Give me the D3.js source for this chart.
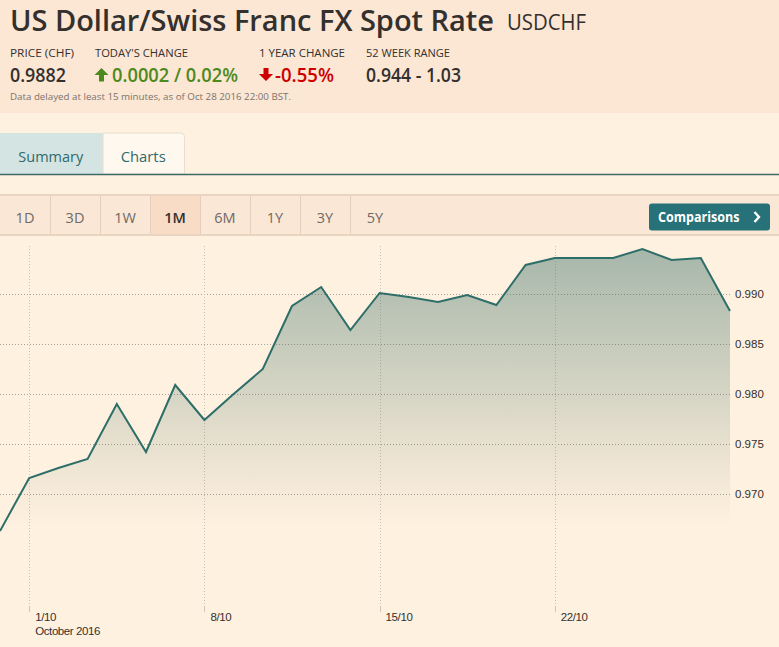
<!DOCTYPE html>
<html>
<head>
<meta charset="utf-8">
<script src="https://cdn.jsdelivr.net/npm/d3@7"></script>
<style>
  html, body { margin: 0; padding: 0; background: #fff1e0; }
  svg { display: block; }
</style>
</head>
<body>
<div id="chart"></div>
<script>
// ---------- data ----------
const dates = ["30/9","1/10","3/10","4/10","5/10","6/10","7/10","8/10","10/10","11/10","12/10","13/10","14/10",
               "15/10","17/10","18/10","19/10","20/10","21/10","22/10","24/10","25/10","26/10","27/10","28/10","29/10"];
const values = [0.9663,0.9716,0.9726,0.9735,0.9790,0.9742,0.9809,0.9774,0.9800,0.9825,0.9888,0.9907,0.9864,
                0.9901,0.9897,0.9892,0.9899,0.9889,0.9929,0.9936,0.9936,0.9936,0.9945,0.9934,0.9936,0.9883];
const xTickDates = ["1/10","8/10","15/10","22/10"];
const xTickLabels = ["1/10","8/10","15/10","22/10"];
const monthLabel = "October 2016";
const yTicks = [0.970,0.975,0.980,0.985,0.990];
const yDomain = [0.9588, 0.9948];
const rangeButtons = ["1D","3D","1W","1M","6M","1Y","3Y","5Y"];
const activeRange = "1M";
const tabs = ["Summary","Charts"];

const W = 779, H = 647;
const svg = d3.select("#chart").append("svg").attr("width", W).attr("height", H);

// ---------- header ----------
svg.append("rect").attr("x",0).attr("y",0).attr("width",W).attr("height",113).attr("fill","#fce6d4");
const HF = "'Open Sans', 'Noto Sans', sans-serif";
svg.append("text").attr("x",10).attr("y",31).attr("font-family",HF).attr("font-weight",600)
  .attr("font-size",29).attr("fill","#33302e").attr("textLength",484).attr("lengthAdjust","spacingAndGlyphs")
  .text("US Dollar/Swiss Franc FX Spot Rate");
svg.append("text").attr("x",507).attr("y",30).attr("font-family",HF).attr("font-weight",500)
  .attr("font-size",21).attr("fill","#33302e").attr("textLength",79).attr("lengthAdjust","spacingAndGlyphs")
  .text("USDCHF");

const labels = [
  {t:"PRICE (CHF)", x:10, w:64},
  {t:"TODAY'S CHANGE", x:95, w:93},
  {t:"1 YEAR CHANGE", x:259, w:86},
  {t:"52 WEEK RANGE", x:366, w:84}
];
svg.selectAll("text.lbl").data(labels).enter().append("text").attr("class","lbl")
  .attr("x",d=>d.x).attr("y",57).attr("font-family",HF).attr("font-size",10.5).attr("font-weight",500).attr("fill","#33302e")
  .attr("textLength",d=>d.w).attr("lengthAdjust","spacingAndGlyphs").text(d=>d.t);

const vals = [
  {t:"0.9882", x:10, w:56, c:"#33302e"},
  {t:"0.0002 / 0.02%", x:112, w:126, c:"#4c8a1d"},
  {t:"-0.55%", x:275, w:59, c:"#cc0000"},
  {t:"0.944 - 1.03", x:366, w:95, c:"#33302e"}
];
svg.selectAll("text.val").data(vals).enter().append("text").attr("class","val")
  .attr("x",d=>d.x).attr("y",82).attr("font-family",HF).attr("font-size",19).attr("font-weight",600).attr("fill",d=>d.c)
  .attr("textLength",d=>d.w).attr("lengthAdjust","spacingAndGlyphs").text(d=>d.t);
// arrows
svg.append("path").attr("d","M101.5,68 L108.5,75 L104,75 L104,81.5 L99,81.5 L99,75 L94.5,75 Z").attr("fill","#4c8a1d");
svg.append("path").attr("d","M263.5,68 L268.5,68 L268.5,74 L273,74 L266,81 L259,74 L263.5,74 Z").attr("fill","#cc0000");

svg.append("text").attr("x",10).attr("y",99.5).attr("font-family",HF).attr("font-size",8.8).attr("fill","#7a746e")
  .attr("textLength",281).attr("lengthAdjust","spacingAndGlyphs")
  .text("Data delayed at least 15 minutes, as of Oct 28 2016 22:00 BST.");

// ---------- tabs ----------
svg.append("rect").attr("x",0).attr("y",133).attr("width",103).attr("height",41).attr("fill","#d3e4e3");
svg.append("path").attr("d","M103,174 L103,133 L180,133 Q184.5,133 184.5,137.5 L184.5,174 Z")
  .attr("fill","#fff8ef").attr("stroke","#e9ddd0").attr("stroke-width",1);
svg.append("line").attr("x1",0).attr("x2",W).attr("y1",174.5).attr("y2",174.5).attr("stroke","#3d6a66").attr("stroke-width",1.5);
const tabPos = [{x:18.3,w:65},{x:120.7,w:45}];
svg.selectAll("text.tab").data(tabs).enter().append("text").attr("class","tab")
  .attr("x",(d,i)=>tabPos[i].x).attr("y",161.5).attr("font-family",HF).attr("font-size",15)
  .attr("fill","#2f6a6c").attr("textLength",(d,i)=>tabPos[i].w).attr("lengthAdjust","spacingAndGlyphs").text(d=>d);

// ---------- range bar ----------
svg.append("rect").attr("x",0).attr("y",195).attr("width",W).attr("height",40).attr("fill","#fbe7d5");
svg.append("line").attr("x1",0).attr("x2",W).attr("y1",195).attr("y2",195).attr("stroke","#e2cdb9").attr("stroke-width",1.5);
svg.append("line").attr("x1",0).attr("x2",W).attr("y1",235).attr("y2",235).attr("stroke","#e2cdb9").attr("stroke-width",1.5);
const bx = d3.scaleBand().domain(rangeButtons).range([0,400]);
svg.append("rect").attr("x",bx(activeRange)).attr("y",195.75).attr("width",bx.bandwidth()).attr("height",38.5).attr("fill","#f9dcc5");
svg.selectAll("line.sep").data(rangeButtons.slice(1)).enter().append("line").attr("class","sep")
  .attr("x1",d=>bx(d)+0.5).attr("x2",d=>bx(d)+0.5).attr("y1",196).attr("y2",234).attr("stroke","#e4cfbb");
svg.selectAll("text.rb").data(rangeButtons).enter().append("text").attr("class","rb")
  .attr("x",d=>bx(d)+bx.bandwidth()/2).attr("y",223).attr("text-anchor","middle")
  .attr("font-family",HF).attr("font-size",14.5).attr("font-weight",d=>d===activeRange?600:400)
  .attr("fill",d=>d===activeRange?"#33302e":"#6e6a66").text(d=>d);
svg.append("rect").attr("x",649).attr("y",203.5).attr("width",121).attr("height",27).attr("rx",3).attr("fill","#277178");
svg.append("text").attr("x",658).attr("y",221.5).attr("font-family",HF).attr("font-weight",700).attr("font-size",13.5)
  .attr("fill","#ffffff").attr("textLength",81.5).attr("lengthAdjust","spacingAndGlyphs").text("Comparisons");
svg.append("path").attr("d","M754.5,212 L759,217 L754.5,222").attr("fill","none").attr("stroke","#fff").attr("stroke-width",2.4);

// ---------- chart ----------
const plotTop = 246, plotBottom = 606, plotRight = 730;
const x = d3.scalePoint().domain(dates).range([0, plotRight]);
const y = d3.scaleLinear().domain(yDomain).range([plotBottom, plotTop]);

// gridlines horizontal
svg.append("g").selectAll("line").data(yTicks).enter().append("line")
  .attr("x1",0).attr("x2",plotRight).attr("y1",d=>Math.round(y(d))+0.5).attr("y2",d=>Math.round(y(d))+0.5)
  .attr("stroke","#aaa198").attr("stroke-dasharray","1,2");
// vertical gridlines
const vg = svg.append("g");
vg.selectAll("line.v").data(xTickDates).enter().append("line").attr("class","v")
  .attr("x1",d=>Math.round(x(d))+0.5).attr("x2",d=>Math.round(x(d))+0.5).attr("y1",plotTop).attr("y2",plotBottom)
  .attr("stroke","#c9c0b6").attr("stroke-dasharray","1,2");
vg.selectAll("line.t").data(xTickDates).enter().append("line").attr("class","t")
  .attr("x1",d=>Math.round(x(d))+0.5).attr("x2",d=>Math.round(x(d))+0.5).attr("y1",plotBottom).attr("y2",plotBottom+6)
  .attr("stroke","#cdc4ba");

// gradient
const defs = svg.append("defs");
const grad = defs.append("linearGradient").attr("id","ag").attr("gradientUnits","userSpaceOnUse")
  .attr("x1",0).attr("x2",0).attr("y1",y(d3.max(values))).attr("y2",528);
grad.append("stop").attr("offset",0).attr("stop-color","#2a6660").attr("stop-opacity",0.42);
grad.append("stop").attr("offset",0.55).attr("stop-color","#3e6e60").attr("stop-opacity",0.2);
grad.append("stop").attr("offset",1).attr("stop-color","#6b7a60").attr("stop-opacity",0);

const pts = dates.map((d,i)=>({d, v: values[i]}));
const area = d3.area().x(p=>x(p.d)).y0(plotBottom).y1(p=>y(p.v));
svg.append("path").datum(pts).attr("d",area).attr("fill","url(#ag)");
const line = d3.line().x(p=>x(p.d)).y(p=>y(p.v));
svg.append("path").datum(pts).attr("d",line).attr("fill","none").attr("stroke","#2d6e69").attr("stroke-width",2)
  .attr("stroke-linejoin","miter");

// y axis labels
const AF = "'Liberation Sans', Arial, sans-serif";
svg.append("g").selectAll("text").data(yTicks).enter().append("text")
  .attr("x",735).attr("y",d=>y(d)+4).attr("font-family",AF).attr("font-size",11.5).attr("fill","#33302e")
  .text(d=>d3.format(".3f")(d));

// x axis labels
svg.append("g").selectAll("text").data(xTickDates).enter().append("text")
  .attr("x",d=>x(d)+6).attr("y",620.5).attr("font-family",AF).attr("font-size",11.5).attr("fill","#33302e")
  .attr("letter-spacing",-0.4)
  .text((d,i)=>xTickLabels[i]);
svg.append("text").attr("x",x(xTickDates[0])+6).attr("y",635).attr("font-family",AF).attr("font-size",11.5)
  .attr("fill","#33302e").attr("letter-spacing",-0.4).text(monthLabel);
</script>
</body>
</html>
